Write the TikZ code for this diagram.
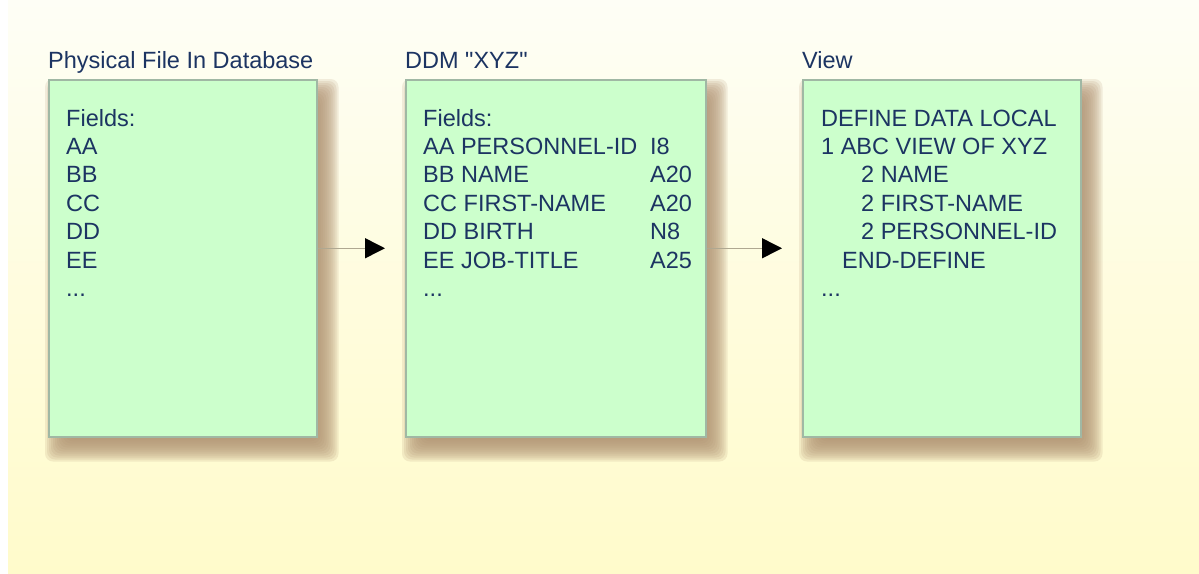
\documentclass[tikz,border=0pt]{standalone}
\usepackage{fontspec}
\setmainfont{Liberation Sans}[Ligatures=TeXOff]
\usetikzlibrary{arrows.meta}
\definecolor{ink}{RGB}{28,52,98}
\definecolor{boxfill}{RGB}{204,255,204}
\definecolor{boxline}{RGB}{160,184,164}
\definecolor{shadowc}{RGB}{178,148,116}
\definecolor{linec}{RGB}{175,168,145}
\definecolor{bgtop}{RGB}{254,254,246}
\definecolor{bgbot}{RGB}{255,251,203}
\newcommand{\ddd}{...}
\pgfdeclarelayer{bg}
\pgfsetlayers{bg,main}

\begin{document}
\begin{tikzpicture}[x=1pt,y=-1pt,
every node/.style={inner sep=0pt, text=ink, font=\fontsize{23.5}{28}\selectfont},
txt/.style={anchor=base west},
fbox/.style={draw=boxline, line width=1.5pt, fill=boxfill, anchor=north west, minimum height=357pt},
link/.style={draw=linec, line width=1.5pt, -{Triangle[length=20pt,width=20pt,color=black]}, shorten >=20pt}]
\useasboundingbox (0,0) rectangle (1199,573);

%the three boxes
\node[fbox, minimum width=268pt] (phys) at (48,79) {};
\node[fbox, minimum width=300pt] (ddm) at (405,79) {};
\node[fbox, minimum width=278pt] (view) at (802,79) {};

%titles above the boxes
\node[txt] (tphys) at (48,68) {Physical File In Database};
\node[txt] (tddm) at (405,68) {DDM "XYZ"};
\node[txt] (tview) at (802,68) {View};

%field lists
\foreach \t [count=\i from 0] in {Fields:, AA, BB, CC, DD, EE, \ddd}
	\node[txt] (phys\i) at (66,126+28.4*\i) {\t};
\foreach \t/\f [count=\i from 0] in {Fields:/{}, AA PERSONNEL-ID/I8, BB NAME/A20, CC FIRST-NAME/A20, DD BIRTH/N8, EE JOB-TITLE/A25, \ddd/{}}{
	\node[txt] (ddm\i) at (423,126+28.4*\i) {\t};
	\node[txt] (ddmf\i) at (650,126+28.4*\i) {\f};
}
\foreach \d/\t [count=\i from 0] in {0/DEFINE DATA LOCAL, 0/1 ABC VIEW OF XYZ, 40/2 NAME, 40/2 FIRST-NAME, 40/2 PERSONNEL-ID, 21/END-DEFINE, 0/\ddd}
	\node[txt] (view\i) at (821+\d,126+28.4*\i) {\t};

%arrows between the boxes
\draw[link] ([yshift=10pt]phys.east) -- ([yshift=10pt]ddm.west);
\draw[link] ([yshift=10pt]ddm.east) -- ([yshift=10pt]view.west);

%background and soft shadows
\begin{pgfonlayer}{bg}
\fill[white] (0,0) rectangle (1199,573);
\shade[top color=bgtop, bottom color=bgbot, middle color=bgbot!55!bgtop] (8,0) rectangle (1199,573);
\foreach \b in {phys,ddm,view}
	\foreach \s in {-10,-8,...,12}
		\fill[shadowc, opacity=0.17, rounded corners=8pt] ([shift={(9-\s,12-\s)}]\b.north west) rectangle ([shift={(9+\s,12+\s)}]\b.south east);
\end{pgfonlayer}
\end{tikzpicture}
\end{document}
